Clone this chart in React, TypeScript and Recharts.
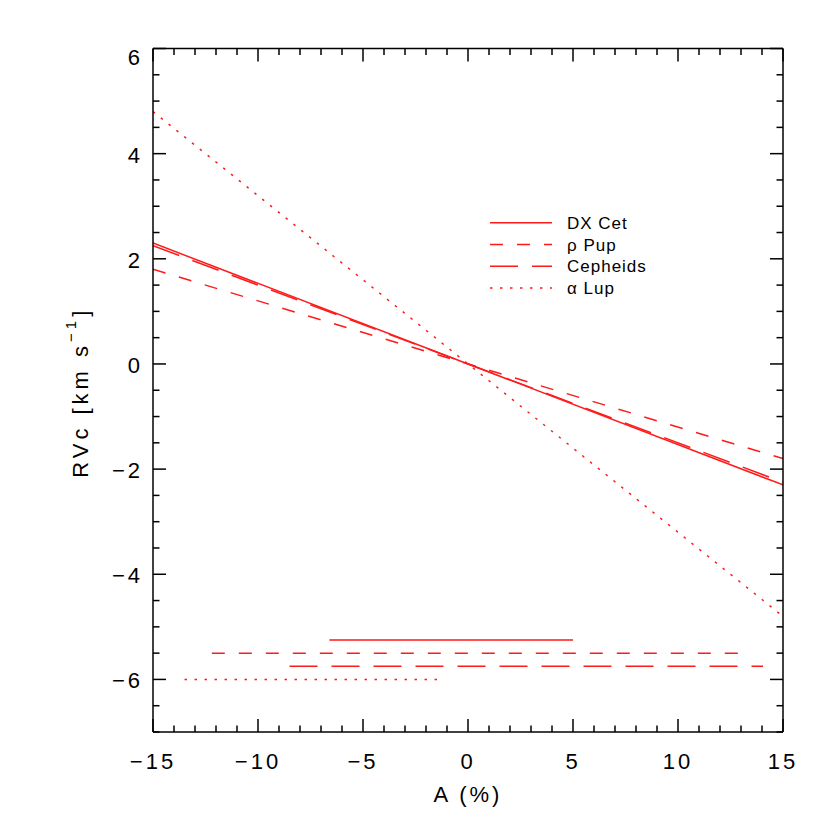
import { LineChart, Line, XAxis, YAxis, Legend } from "recharts";

// fitted RVc vs amplitude relations (values at A = -15 and A = +15)
const trendAmplitude = [-15, 15];
const dxCetTrend = [2.3, -2.3];
const rhoPupTrend = [1.8, -1.8];
const cepheidsTrend = [2.25, -2.25];
const alphaLupTrend = [4.8, -4.8];

// observed amplitude ranges, drawn as horizontal bars near the bottom
const dxCetRange = [-6.6, 5.0];
const rhoPupRange = [-12.2, 13.2];
const cepheidsRange = [-8.5, 14.05];
const alphaLupRange = [-13.5, -1.35];
const rangeLevels = [-5.25, -5.5, -5.75, -6];

const seriesNames = ["DX Cet", "ρ Pup", "Cepheids", "α Lup"];
const seriesDash = ["0", "13 14", "28 14", "2.5 7.5"];

const xMajorTicks = [-15, -10, -5, 0, 5, 10, 15];
const yMajorTicks = [-6, -4, -2, 0, 2, 4, 6];

const RED = "#ff1a1a";
const FONT = "'Liberation Sans', Arial, sans-serif";

const xTicks: number[] = [];
for (let v = -15; v <= 15; v++) xTicks.push(v);
const yTicks: number[] = [];
for (let v = -7; v <= 6; v += 0.5) yTicks.push(v);

const trends = [dxCetTrend, rhoPupTrend, cepheidsTrend, alphaLupTrend];
const ranges = [dxCetRange, rhoPupRange, cepheidsRange, alphaLupRange];

const fmt = (v: number) => (v < 0 ? "\u2212" + Math.abs(v) : String(v));

const isMajorX = (v: number) => xMajorTicks.includes(v);
const isMajorY = (v: number) => yMajorTicks.includes(v);

function BottomTick(props: any) {
  const { x, y, payload } = props;
  const v = payload.value;
  const major = isMajorX(v);
  return (
    <g>
      <line x1={x} y1={y} x2={x} y2={y - (major ? 13 : 6.5)} stroke="#000" strokeWidth={1.5} />
      {major && (
        <text x={x} y={y + 37} textAnchor="middle" fontSize={22} fontFamily={FONT} letterSpacing={3} fill="#000">
          {fmt(v)}
        </text>
      )}
    </g>
  );
}

function TopTick(props: any) {
  const { x, y, payload } = props;
  const major = isMajorX(payload.value);
  return <line x1={x} y1={y} x2={x} y2={y + (major ? 13 : 6.5)} stroke="#000" strokeWidth={1.5} />;
}

function LeftTick(props: any) {
  const { x, y, payload } = props;
  const v = payload.value;
  const major = isMajorY(v);
  const dy = v === 6 ? 16 : 9;
  return (
    <g>
      <line x1={x} y1={y} x2={x + (major ? 13 : 6.5)} y2={y} stroke="#000" strokeWidth={1.5} />
      {major && (
        <text x={x - 10} y={y + dy} textAnchor="end" fontSize={22} fontFamily={FONT} letterSpacing={3} fill="#000">
          {fmt(v)}
        </text>
      )}
    </g>
  );
}

function RightTick(props: any) {
  const { x, y, payload } = props;
  const major = isMajorY(payload.value);
  return <line x1={x} y1={y} x2={x - (major ? 13 : 6.5)} y2={y} stroke="#000" strokeWidth={1.5} />;
}

function YTitle(props: any) {
  const { viewBox } = props;
  const cx = viewBox.x + 80;
  const cy = viewBox.y + viewBox.height / 2 + 2;
  return (
    <text
      x={cx}
      y={cy}
      transform={`rotate(-90 ${cx} ${cy})`}
      textAnchor="middle"
      dominantBaseline="central"
      fontSize={22}
      fontFamily={FONT}
      letterSpacing={4}
      fill="#000"
    >
      RVc [km s<tspan fontSize={15} dy={-10}>−1</tspan>
      <tspan dy={10}>]</tspan>
    </text>
  );
}

function XTitle(props: any) {
  const { viewBox } = props;
  return (
    <text
      x={viewBox.x + viewBox.width / 2}
      y={viewBox.y + 70}
      textAnchor="middle"
      fontSize={22}
      fontFamily={FONT}
      letterSpacing={3}
      fill="#000"
    >
      A (%)
    </text>
  );
}

function LegendBox() {
  return (
    <svg width={200} height={90}>
      {seriesNames.map((name, i) => {
        const ry = 10.7 + i * 21.8;
        return (
          <g key={name}>
            <line x1={2} y1={ry} x2={64} y2={ry} stroke={RED} strokeWidth={1.5} strokeDasharray={seriesDash[i]} />
            <text x={79} y={ry + 6} fontSize={17} fontFamily={FONT} letterSpacing={1} fill="#000">
              {name}
            </text>
          </g>
        );
      })}
    </svg>
  );
}

export default function App() {
  return (
    <div style={{ position: "absolute", left: 0, top: 0, background: "#fff" }}>
      <LineChart width={830} height={830} margin={{ top: 46.5, right: 45, bottom: 0, left: 0 }}>
        <XAxis
          dataKey="x"
          type="number"
          domain={[-15, 15]}
          allowDataOverflow
          ticks={xTicks}
          interval={0}
          tickSize={0}
          tickMargin={0}
          tickLine={false}
          tick={<BottomTick />}
          axisLine={{ stroke: "#000", strokeWidth: 1.5 }}
          height={98}
          label={<XTitle />}
        />
        <XAxis
          xAxisId="top"
          orientation="top"
          dataKey="x"
          type="number"
          domain={[-15, 15]}
          allowDataOverflow
          ticks={xTicks}
          interval={0}
          tickSize={0}
          tickMargin={0}
          tickLine={false}
          tick={<TopTick />}
          axisLine={{ stroke: "#000", strokeWidth: 1.5 }}
          height={2}
        />
        <YAxis
          type="number"
          domain={[-7, 6]}
          allowDataOverflow
          ticks={yTicks}
          interval={0}
          tickSize={0}
          tickMargin={0}
          tickLine={false}
          tick={<LeftTick />}
          axisLine={{ stroke: "#000", strokeWidth: 1.5 }}
          width={153}
          label={<YTitle />}
        />
        <YAxis
          yAxisId="right"
          orientation="right"
          type="number"
          domain={[-7, 6]}
          allowDataOverflow
          ticks={yTicks}
          interval={0}
          tickSize={0}
          tickMargin={0}
          tickLine={false}
          tick={<RightTick />}
          axisLine={{ stroke: "#000", strokeWidth: 1.5 }}
          width={2}
        />
        {trends.map((t, i) => (
          <Line
            key={`trend-${i}`}
            data={trendAmplitude.map((a, k) => ({ x: a, y: t[k] }))}
            dataKey="y"
            stroke={RED}
            strokeWidth={1.5}
            strokeDasharray={seriesDash[i]}
            dot={false}
            activeDot={false}
            isAnimationActive={false}
          />
        ))}
        {ranges.map((r, i) => (
          <Line
            key={`range-${i}`}
            data={r.map((a) => ({ x: a, y: rangeLevels[i] }))}
            dataKey="y"
            stroke={RED}
            strokeWidth={1.5}
            strokeDasharray={seriesDash[i]}
            dot={false}
            activeDot={false}
            isAnimationActive={false}
          />
        ))}
        <Legend
          layout="vertical"
          align="center"
          verticalAlign="middle"
          content={<LegendBox />}
          wrapperStyle={{ top: 212, left: 488, width: 200 }}
        />
      </LineChart>
    </div>
  );
}
